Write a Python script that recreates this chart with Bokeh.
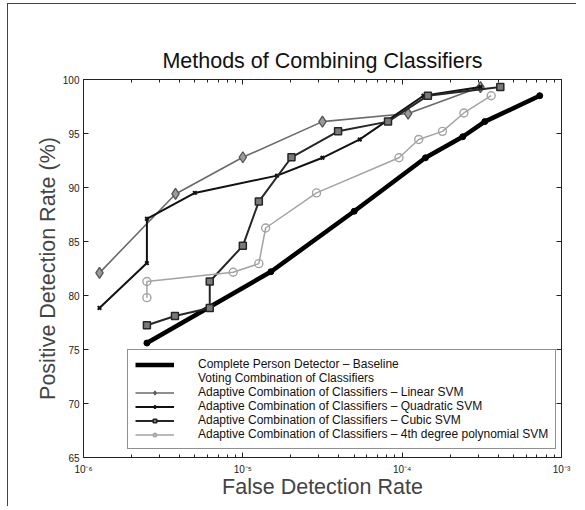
from bokeh.plotting import figure
from bokeh.models import (LogAxis, LinearAxis, FixedTicker, Legend, LegendItem)
from bokeh.embed import file_html
from bokeh.resources import INLINE

# ---------------- data ----------------
title_text = "Methods of Combining Classifiers"
x_label = "False Detection Rate"
y_label = "Positive Detection Rate (%)"

x_major_ticks = [1e-6, 1e-5, 1e-4, 1e-3]
x_tick_labels = ["10\u207b\u2076", "10\u207b\u2075", "10\u207b\u2074", "10\u207b\u00b3"]
x_minor_ticks = [m * d for d in (1e-6, 1e-5, 1e-4) for m in range(2, 10)]
y_ticks = [65, 70, 75, 80, 85, 90, 95, 100]

baseline_x = [2.5e-6, 1.5e-5, 5.0e-5, 1.4e-4, 2.4e-4, 3.3e-4, 7.3e-4]
baseline_y = [75.6, 82.2, 87.8, 92.75, 94.7, 96.1, 98.5]

voting_x = [1e-6]
voting_y = [65]

linear_x = [1.26e-6, 3.78e-6, 1.0e-5, 3.16e-5, 1.09e-4, 3.1e-4]
linear_y = [82.1, 89.4, 92.8, 96.1, 96.85, 99.3]

quad_x = [1.26e-6, 2.5e-6, 2.5e-6, 5.0e-6, 1.64e-5, 3.16e-5, 5.42e-5, 1.36e-4, 3.1e-4]
quad_y = [78.85, 83.0, 87.1, 89.5, 91.1, 92.75, 94.45, 98.5, 99.3]

cubic_x = [2.5e-6, 3.75e-6, 6.2e-6, 6.2e-6, 1.0e-5, 1.26e-5, 2.02e-5, 3.96e-5, 8.15e-5, 1.45e-4, 4.13e-4]
cubic_y = [77.25, 78.1, 78.85, 81.3, 84.6, 88.7, 92.8, 95.2, 96.1, 98.5, 99.3]

poly4_x = [2.5e-6, 2.5e-6, 8.7e-6, 1.26e-5, 1.39e-5, 2.9e-5, 9.55e-5, 1.27e-4, 1.79e-4, 2.44e-4, 3.62e-4]
poly4_y = [79.8, 81.3, 82.15, 82.95, 86.25, 89.5, 92.75, 94.45, 95.2, 96.9, 98.5]

labels = [
    "Complete Person Detector \u2013 Baseline",
    "Voting Combination of Classifiers",
    "Adaptive Combination of Classifiers \u2013 Linear SVM",
    "Adaptive Combination of Classifiers \u2013 Quadratic SVM",
    "Adaptive Combination of Classifiers \u2013 Cubic SVM",
    "Adaptive Combination of Classifiers \u2013 4th degree polynomial SVM",
]

FONT = "Liberation Sans"
AX = "#222222"

p = figure(frame_width=478, frame_height=378,
           x_axis_type="log", x_range=(1e-6, 1e-3), y_range=(65, 100),
           output_backend="svg", toolbar_location=None,
           min_border_left=75, min_border_right=15,
           min_border_top=75, min_border_bottom=44,
           background_fill_color="white", border_fill_color="white")
p.styles = {"margin-left": "7px", "margin-top": "3px", "padding-bottom": "5px",
            "border-left": "1px solid #444", "border-top": "1px solid #444"}
p.grid.visible = False
p.outline_line_color = AX

p.title.text = title_text
p.title.align = "center"
p.title.text_font = FONT
p.title.text_font_size = "21.5px"
p.title.text_font_style = "normal"
p.title.text_color = "#111111"
p.title.standoff = 13

def style_axis(ax):
    ax.axis_line_color = AX
    ax.major_tick_line_color = AX
    ax.minor_tick_line_color = AX
    ax.major_tick_in = 5
    ax.major_tick_out = 0
    ax.minor_tick_in = 3
    ax.minor_tick_out = 0
    ax.major_label_text_font = FONT
    ax.major_label_text_color = "#222222"
    ax.major_label_text_font_size = "10px"

xb = p.xaxis[0]
xb.ticker = FixedTicker(ticks=x_major_ticks, minor_ticks=x_minor_ticks)
xb.major_label_overrides = dict(zip(x_major_ticks, x_tick_labels))
style_axis(xb)
xb.major_label_standoff = 6
xb.axis_label = x_label
xb.axis_label_text_font = FONT
xb.axis_label_text_font_size = "21.5px"
xb.axis_label_text_font_style = "normal"
xb.axis_label_standoff = -3

yl = p.yaxis[0]
yl.ticker = FixedTicker(ticks=y_ticks, minor_ticks=[])
style_axis(yl)
yl.major_label_standoff = 4
yl.axis_label = y_label
yl.axis_label_text_font = FONT
yl.axis_label_text_font_size = "21.5px"
yl.axis_label_text_font_style = "normal"
yl.axis_label_standoff = 0

xa = LogAxis(ticker=FixedTicker(ticks=x_major_ticks, minor_ticks=x_minor_ticks))
style_axis(xa)
xa.major_label_text_alpha = 0
p.add_layout(xa, "above")
yr = LinearAxis(ticker=FixedTicker(ticks=y_ticks, minor_ticks=[]))
style_axis(yr)
yr.major_label_text_alpha = 0
p.add_layout(yr, "right")

# ---------------- series ----------------
r_base_l = p.line(baseline_x, baseline_y, line_color="#000000", line_width=4.5)
r_base_m = p.scatter(baseline_x, baseline_y, marker="circle", size=6,
                     fill_color="#000000", line_color="#000000")

r_vote = p.line(voting_x, voting_y, line_alpha=0)

r_lin_l = p.line(linear_x, linear_y, line_color="#6a6a6a", line_width=1.6)
r_lin_m = p.scatter(linear_x, linear_y, marker="diamond", size=11,
                    fill_color="#9a9a9a", line_color="#555555", line_width=1.3)

r_quad_l = p.line(quad_x, quad_y, line_color="#111111", line_width=2)
r_quad_m = p.scatter(quad_x, quad_y, marker="x", size=5,
                     line_color="#111111", line_width=2)

r_cub_l = p.line(cubic_x, cubic_y, line_color="#262626", line_width=2)
r_cub_m = p.scatter(cubic_x, cubic_y, marker="square", size=7,
                    fill_color="#7a7a7a", line_color="#262626", line_width=1.5)

r_p4_l = p.line(poly4_x, poly4_y, line_color="#a3a3a3", line_width=1.5)
r_p4_m = p.scatter(poly4_x, poly4_y, marker="circle", size=8,
                   fill_color=None, line_color="#a3a3a3", line_width=1.4)

items = [
    LegendItem(label=labels[0], renderers=[r_base_l]),
    LegendItem(label=labels[1], renderers=[r_vote]),
    LegendItem(label=labels[2], renderers=[r_lin_l, r_lin_m]),
    LegendItem(label=labels[3], renderers=[r_quad_l, r_quad_m]),
    LegendItem(label=labels[4], renderers=[r_cub_l, r_cub_m]),
    LegendItem(label=labels[5], renderers=[r_p4_l, r_p4_m]),
]
legend = Legend(items=items, location=(44, 8),
                glyph_width=39, glyph_height=9, label_height=9,
                spacing=0, padding=7, margin=0, label_standoff=24,
                label_text_font=FONT, label_text_font_size="12px",
                label_text_color="#111111",
                border_line_color=AX, border_line_width=1,
                background_fill_color="white", background_fill_alpha=1)
p.add_layout(legend)

open("out.html", "w").write(file_html(p, INLINE))
